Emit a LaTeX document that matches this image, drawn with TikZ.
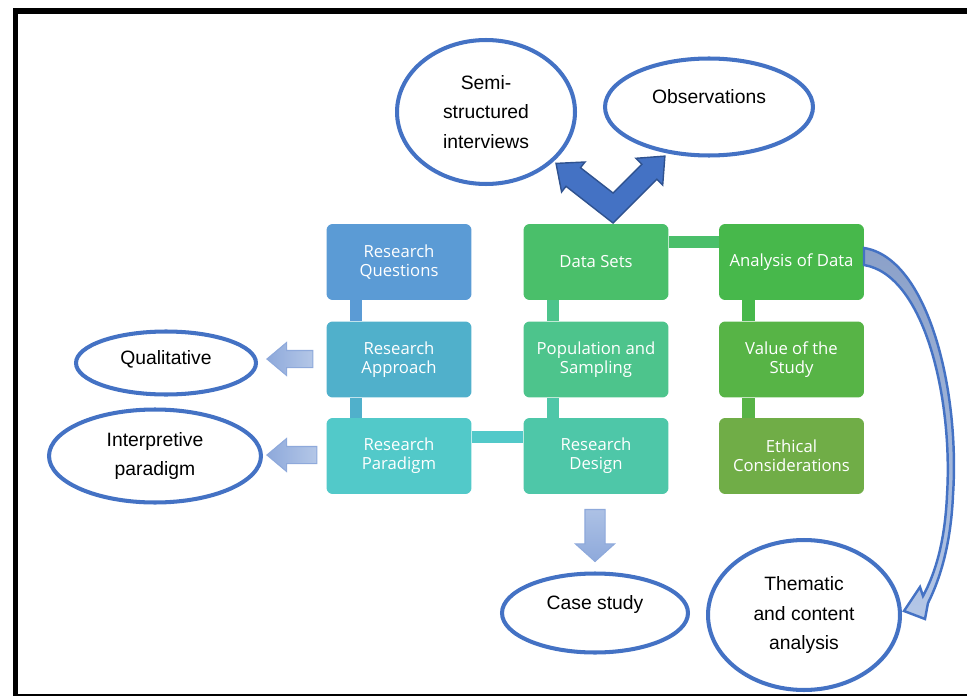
\documentclass[tikz,border=0pt]{standalone}
\usepackage{fontspec}
\setmainfont{Liberation Sans}
\newfontfamily\boxfont{Open Sans}
\usetikzlibrary{shapes.geometric,shapes.arrows,calc}

\definecolor{ringblue}{HTML}{4472C4}
\definecolor{ringdark}{HTML}{2F528F}
\definecolor{arrowdark}{HTML}{8EA9DB}
\definecolor{arrowlight}{HTML}{B4C7E7}
\definecolor{rqcol}{HTML}{5B9BD5}
\definecolor{racol}{HTML}{50B0CB}
\definecolor{rpcol}{HTML}{52C9C9}
\definecolor{rdcol}{HTML}{4EC7A8}
\definecolor{pscol}{HTML}{4DC48C}
\definecolor{dscol}{HTML}{4ABF6A}
\definecolor{adcol}{HTML}{47B84B}
\definecolor{vscol}{HTML}{57B446}
\definecolor{eccol}{HTML}{70AD47}

\begin{document}
\begin{tikzpicture}[x=0.02cm, y=-0.02cm,
  every node/.style={inner sep=0pt},
  stage/.style={rectangle, rounded corners=3.5pt, minimum width=2.9cm, minimum height=1.52cm, text=white, align=center, font=\boxfont\fontsize{9.5}{10.8}\selectfont},
  outcome/.style={ellipse, draw=ringblue, line width=2.3pt, fill=white, align=center, font=\fontsize{11}{17}\selectfont},
  lifted/.style={text height=0.3cm, text depth=#1},
  link/.style={line width=7pt},
  pointer/.style={single arrow, draw=arrowdark, line width=0.6pt, inner xsep=0pt, inner ysep=0.16cm, single arrow head extend=0.16cm, single arrow tip angle=80}
  ]
  \useasboundingbox (0,0) rectangle (967,696);
  \draw[line width=3.4pt] (15.5,11) rectangle (980,697);

  % stages
  \node[stage, fill=rqcol] (rq) at (399,262) {Research\\Questions};
  \node[stage, fill=racol] (ra) at (399,359.5) {Research\\Approach};
  \node[stage, fill=rpcol] (rp) at (399,456) {Research\\Paradigm};
  \node[stage, fill=dscol] (ds) at (596,262) {Data Sets};
  \node[stage, fill=pscol] (ps) at (596,359.5) {Population and\\Sampling};
  \node[stage, fill=rdcol] (rd) at (596,456) {Research\\Design};
  \node[stage, fill=adcol] (ad) at (791.5,262) {Analysis of Data};
  \node[stage, fill=vscol] (vs) at (791.5,359.5) {Value of the\\Study};
  \node[stage, fill=eccol] (ec) at (791.5,456) {Ethical\\Considerations};

  \draw[link, draw=rqcol] ($(rq.south)+(-43,0)$) -- ($(ra.north)+(-43,0)$);
  \draw[link, draw=racol] ($(ra.south)+(-43,0)$) -- ($(rp.north)+(-43,0)$);
  \draw[link, draw=rpcol] ($(rp.east)+(0,-19)$) -- ($(rd.west)+(0,-19)$);
  \draw[link, draw=rdcol] ($(rd.north)+(-43,0)$) -- ($(ps.south)+(-43,0)$);
  \draw[link, draw=pscol] ($(ps.north)+(-43,0)$) -- ($(ds.south)+(-43,0)$);
  \draw[link, draw=dscol] ($(ds.east)+(0,-20)$) -- ($(ad.west)+(0,-20)$);
  \draw[link, draw=adcol] ($(ad.south)+(-43,0)$) -- ($(vs.north)+(-43,0)$);
  \draw[link, draw=vscol] ($(vs.south)+(-43,0)$) -- ($(ec.north)+(-43,0)$);

  % outcomes
  \node[outcome, minimum width=3.56cm, minimum height=2.88cm] (si) at (486,112) {Semi-\\structured\\interviews};
  \node[outcome, minimum width=4.16cm, minimum height=1.94cm, lifted=0.42cm] (ob) at (709,107) {Observations};
  \node[outcome, minimum width=3.6cm, minimum height=1.26cm, lifted=0.26cm] (ql) at (166,363) {Qualitative};
  \node[outcome, minimum width=4.24cm, minimum height=1.86cm] (ip) at (155,456) {Interpretive\\paradigm};
  \node[outcome, minimum width=3.72cm, minimum height=1.58cm, lifted=0.44cm] (cs) at (595,613) {Case study};
  \node[outcome, minimum width=3.84cm, minimum height=3cm] (tc) at (804,615) {Thematic\\and content\\analysis};

  % block arrows
  \node[pointer, shape border rotate=180, minimum height=0.92cm, left color=arrowdark, right color=arrowlight] (qa) at (295,359) {};
  \node[pointer, shape border rotate=180, minimum height=1cm, left color=arrowdark, right color=arrowlight] (pa) at (297,455) {};
  \node[pointer, shape border rotate=270, minimum height=1.04cm, inner xsep=0.19cm, inner ysep=0pt, single arrow head extend=0.19cm, single arrow tip angle=96, top color=arrowlight!80!arrowdark, bottom color=arrowdark] (ca) at (595,531) {};

  \filldraw[fill=ringblue, draw=ringdark, line width=0.8pt, line join=miter]
    (613,223) -- (566,186.3) -- (561.6,192) -- (556,163.4) -- (585,162) -- (580.5,167.7)
    -- (613,193) -- (641.8,164.2) -- (635.9,158.3) -- (664.9,156.1) -- (662.7,185.1) -- (656.8,179.2) -- cycle;

  \draw[draw=ringblue, line width=1.4pt, line join=miter, top color=arrowdark!80!gray, bottom color=arrowlight]
    (864,248) .. controls (928,258) and (960,390) .. (953,495)
    .. controls (951,540) and (942,575) .. (928,603) -- (925,619) -- (904,611) -- (920,587) -- (923,596)
    .. controls (936,572) and (945,540) .. (947,495)
    .. controls (953,400) and (925,275) .. (864,265) -- cycle;
\end{tikzpicture}
\end{document}
